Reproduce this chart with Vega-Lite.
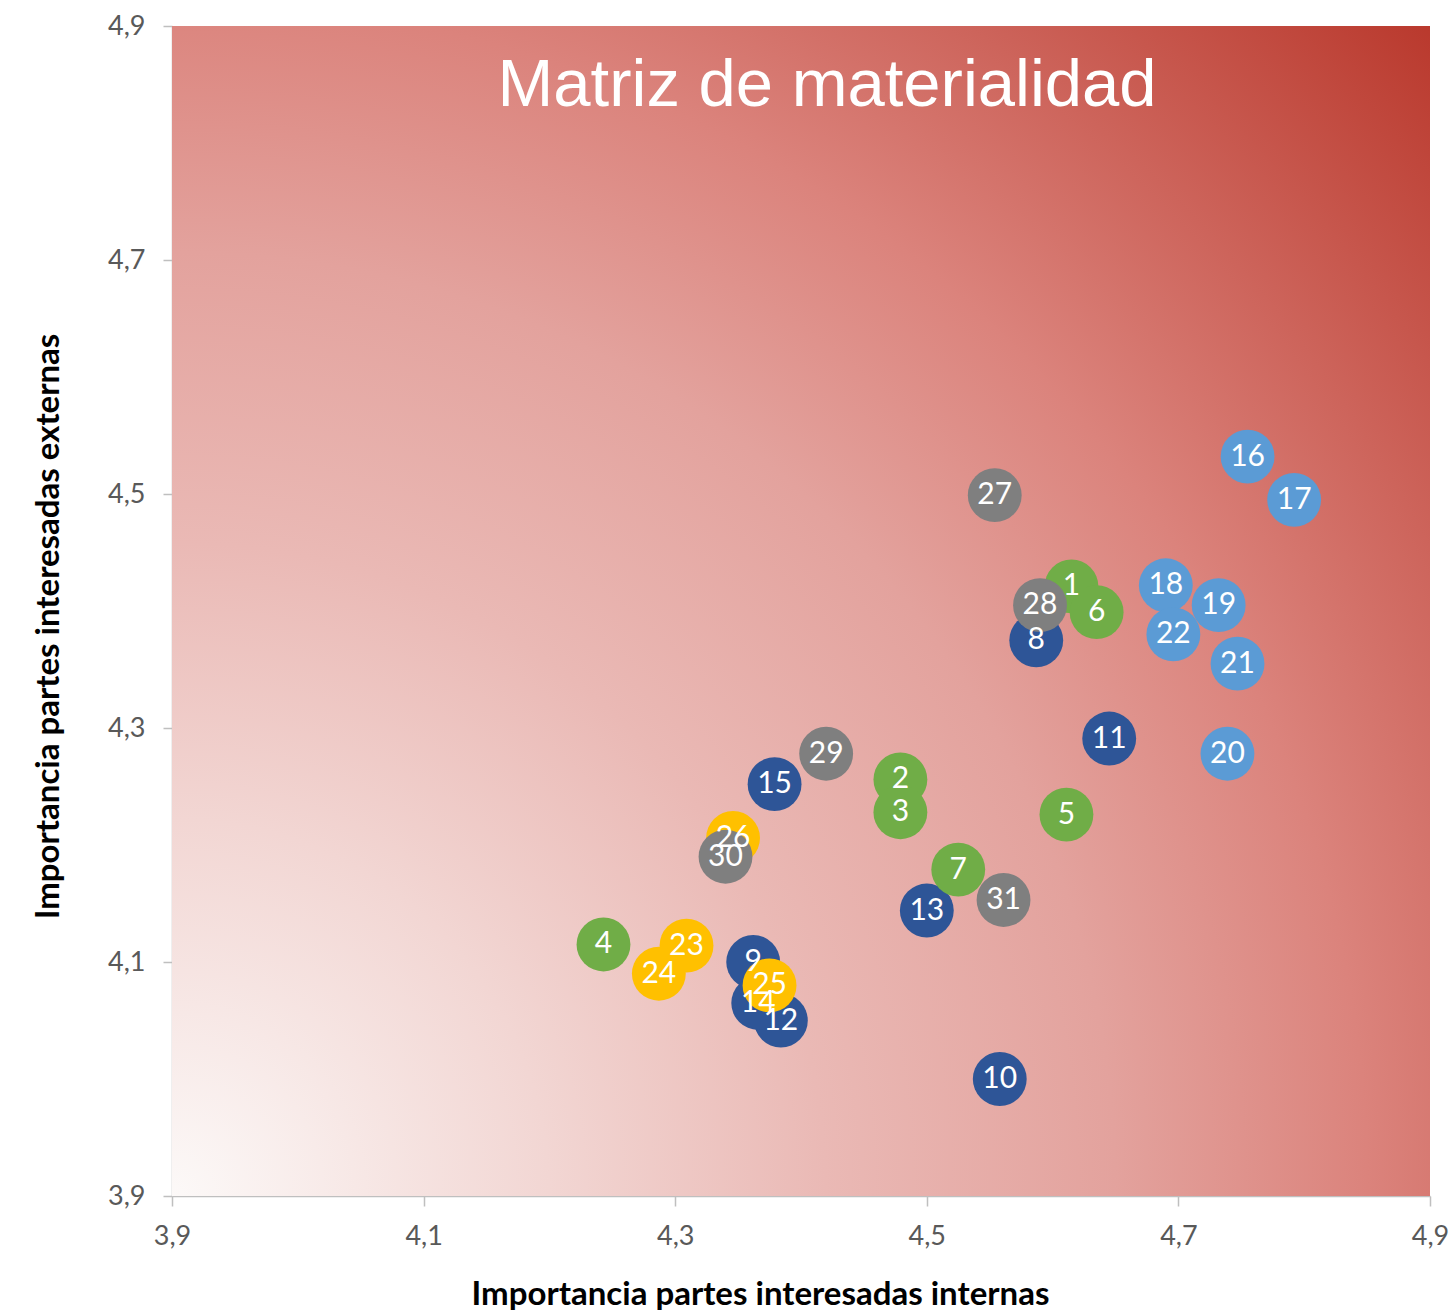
{
  "$schema": "https://vega.github.io/schema/vega-lite/v6.json",
  "width": 1258,
  "height": 1170,
  "autosize": {"type": "none"},
  "padding": {"left": 172, "top": 26, "right": 23, "bottom": 114},
  "background": "white",
  "config": {
    "view": {"stroke": null},
    "axis": {
      "grid": false,
      "labelExpr": "replace(format(datum.value, '.1f'), '.', ',')",
      "domainColor": "#BFBFBF",
      "domainWidth": 1.5,
      "tickColor": "#BFBFBF",
      "tickWidth": 1.5,
      "labelFont": "Lato",
      "labelFontSize": 27,
      "labelColor": "#595959",
      "labelFlush": false,
      "labelOverlap": false,
      "titleFont": "Lato",
      "titleFontSize": 33,
      "titleFontWeight": "bold",
      "titleColor": "#000000",
      "titleAlign": "center",
      "titleBaseline": "alphabetic"
    },
    "axisX": {"tickSize": 10, "labelPadding": 17, "titleX": 588, "titleY": 108},
    "axisY": {"tickSize": 9, "labelPadding": 18, "titleX": -114, "titleY": 600, "titleAngle": 270}
  },
  "data": {
    "values": [
      {"id": "8", "x": 4.587, "y": 4.375, "grupo": "A"},
      {"id": "9", "x": 4.362, "y": 4.100, "grupo": "A"},
      {"id": "10", "x": 4.558, "y": 4.000, "grupo": "A"},
      {"id": "11", "x": 4.645, "y": 4.291, "grupo": "A"},
      {"id": "12", "x": 4.384, "y": 4.050, "grupo": "A"},
      {"id": "13", "x": 4.500, "y": 4.144, "grupo": "A"},
      {"id": "14", "x": 4.366, "y": 4.065, "grupo": "A"},
      {"id": "15", "x": 4.379, "y": 4.252, "grupo": "A"},
      {"id": "16", "x": 4.755, "y": 4.532, "grupo": "B"},
      {"id": "17", "x": 4.792, "y": 4.495, "grupo": "B"},
      {"id": "18", "x": 4.690, "y": 4.422, "grupo": "B"},
      {"id": "19", "x": 4.732, "y": 4.405, "grupo": "B"},
      {"id": "20", "x": 4.739, "y": 4.278, "grupo": "B"},
      {"id": "21", "x": 4.747, "y": 4.355, "grupo": "B"},
      {"id": "22", "x": 4.696, "y": 4.380, "grupo": "B"},
      {"id": "1", "x": 4.615, "y": 4.421, "grupo": "C"},
      {"id": "2", "x": 4.479, "y": 4.256, "grupo": "C"},
      {"id": "3", "x": 4.479, "y": 4.228, "grupo": "C"},
      {"id": "4", "x": 4.243, "y": 4.115, "grupo": "C"},
      {"id": "5", "x": 4.611, "y": 4.226, "grupo": "C"},
      {"id": "6", "x": 4.635, "y": 4.399, "grupo": "C"},
      {"id": "7", "x": 4.525, "y": 4.179, "grupo": "C"},
      {"id": "23", "x": 4.309, "y": 4.114, "grupo": "D"},
      {"id": "24", "x": 4.287, "y": 4.090, "grupo": "D"},
      {"id": "25", "x": 4.375, "y": 4.080, "grupo": "D"},
      {"id": "26", "x": 4.346, "y": 4.206, "grupo": "D"},
      {"id": "27", "x": 4.554, "y": 4.499, "grupo": "E"},
      {"id": "28", "x": 4.590, "y": 4.405, "grupo": "E"},
      {"id": "29", "x": 4.420, "y": 4.278, "grupo": "E"},
      {"id": "30", "x": 4.340, "y": 4.190, "grupo": "E"},
      {"id": "31", "x": 4.561, "y": 4.153, "grupo": "E"}
    ]
  },
  "layer": [
    {
      "data": {"values": [{"x": 3.9, "x2": 4.9, "y": 3.9, "y2": 4.9}]},
      "mark": {
        "type": "rect",
        "fill": {
          "gradient": "radial",
          "x1": 0, "y1": 0.965, "r1": 0,
          "x2": 0, "y2": 0.965, "r2": 1.4,
          "stops": [
            {"offset": 0, "color": "#FCF9F8"},
            {"offset": 0.214, "color": "#F2D6D3"},
            {"offset": 0.371, "color": "#EAB9B5"},
            {"offset": 0.536, "color": "#E3A29D"},
            {"offset": 0.679, "color": "#DB837C"},
            {"offset": 0.98, "color": "#B9382C"},
            {"offset": 1, "color": "#B5352A"}
          ]
        }
      },
      "encoding": {
        "x": {
          "field": "x",
          "type": "quantitative",
          "title": "Importancia partes interesadas internas",
          "scale": {"domain": [3.9, 4.9], "nice": false, "zero": false},
          "axis": {"values": [3.9, 4.1, 4.3, 4.5, 4.7, 4.9]}
        },
        "y": {
          "field": "y",
          "type": "quantitative",
          "title": "Importancia partes interesadas externas",
          "scale": {"domain": [3.9, 4.9], "nice": false, "zero": false},
          "axis": {"values": [3.9, 4.1, 4.3, 4.5, 4.7, 4.9]}
        },
        "x2": {"field": "x2"},
        "y2": {"field": "y2"}
      }
    },
    {
      "mark": {"type": "circle", "size": 2900, "opacity": 1},
      "encoding": {
        "x": {"field": "x", "type": "quantitative", "title": "Importancia partes interesadas internas", "axis": {"values": [3.9, 4.1, 4.3, 4.5, 4.7, 4.9]}},
        "y": {"field": "y", "type": "quantitative", "title": "Importancia partes interesadas externas", "axis": {"values": [3.9, 4.1, 4.3, 4.5, 4.7, 4.9]}},
        "color": {
          "field": "grupo",
          "type": "nominal",
          "scale": {
            "domain": ["A", "B", "C", "D", "E"],
            "range": ["#2E5597", "#5B9BD5", "#70AD47", "#FFC000", "#7F7F7F"]
          },
          "legend": null
        }
      }
    },
    {
      "mark": {
        "type": "text",
        "font": "Lato",
        "fontSize": 30,
        "color": "white",
        "align": "center",
        "baseline": "middle"
      },
      "encoding": {
        "x": {"field": "x", "type": "quantitative", "title": "Importancia partes interesadas internas", "axis": {"values": [3.9, 4.1, 4.3, 4.5, 4.7, 4.9]}},
        "y": {"field": "y", "type": "quantitative", "title": "Importancia partes interesadas externas", "axis": {"values": [3.9, 4.1, 4.3, 4.5, 4.7, 4.9]}},
        "text": {"field": "id"}
      }
    },
    {
      "data": {"values": [{"titulo": "Matriz de materialidad"}]},
      "mark": {
        "type": "text",
        "font": "Liberation Sans",
        "fontSize": 67,
        "color": "white",
        "align": "center",
        "baseline": "alphabetic"
      },
      "encoding": {
        "x": {"datum": 4.4207, "type": "quantitative", "title": "Importancia partes interesadas internas", "axis": {"values": [3.9, 4.1, 4.3, 4.5, 4.7, 4.9]}},
        "y": {"datum": 4.8316, "type": "quantitative", "title": "Importancia partes interesadas externas", "axis": {"values": [3.9, 4.1, 4.3, 4.5, 4.7, 4.9]}},
        "text": {"field": "titulo"}
      }
    }
  ]
}
